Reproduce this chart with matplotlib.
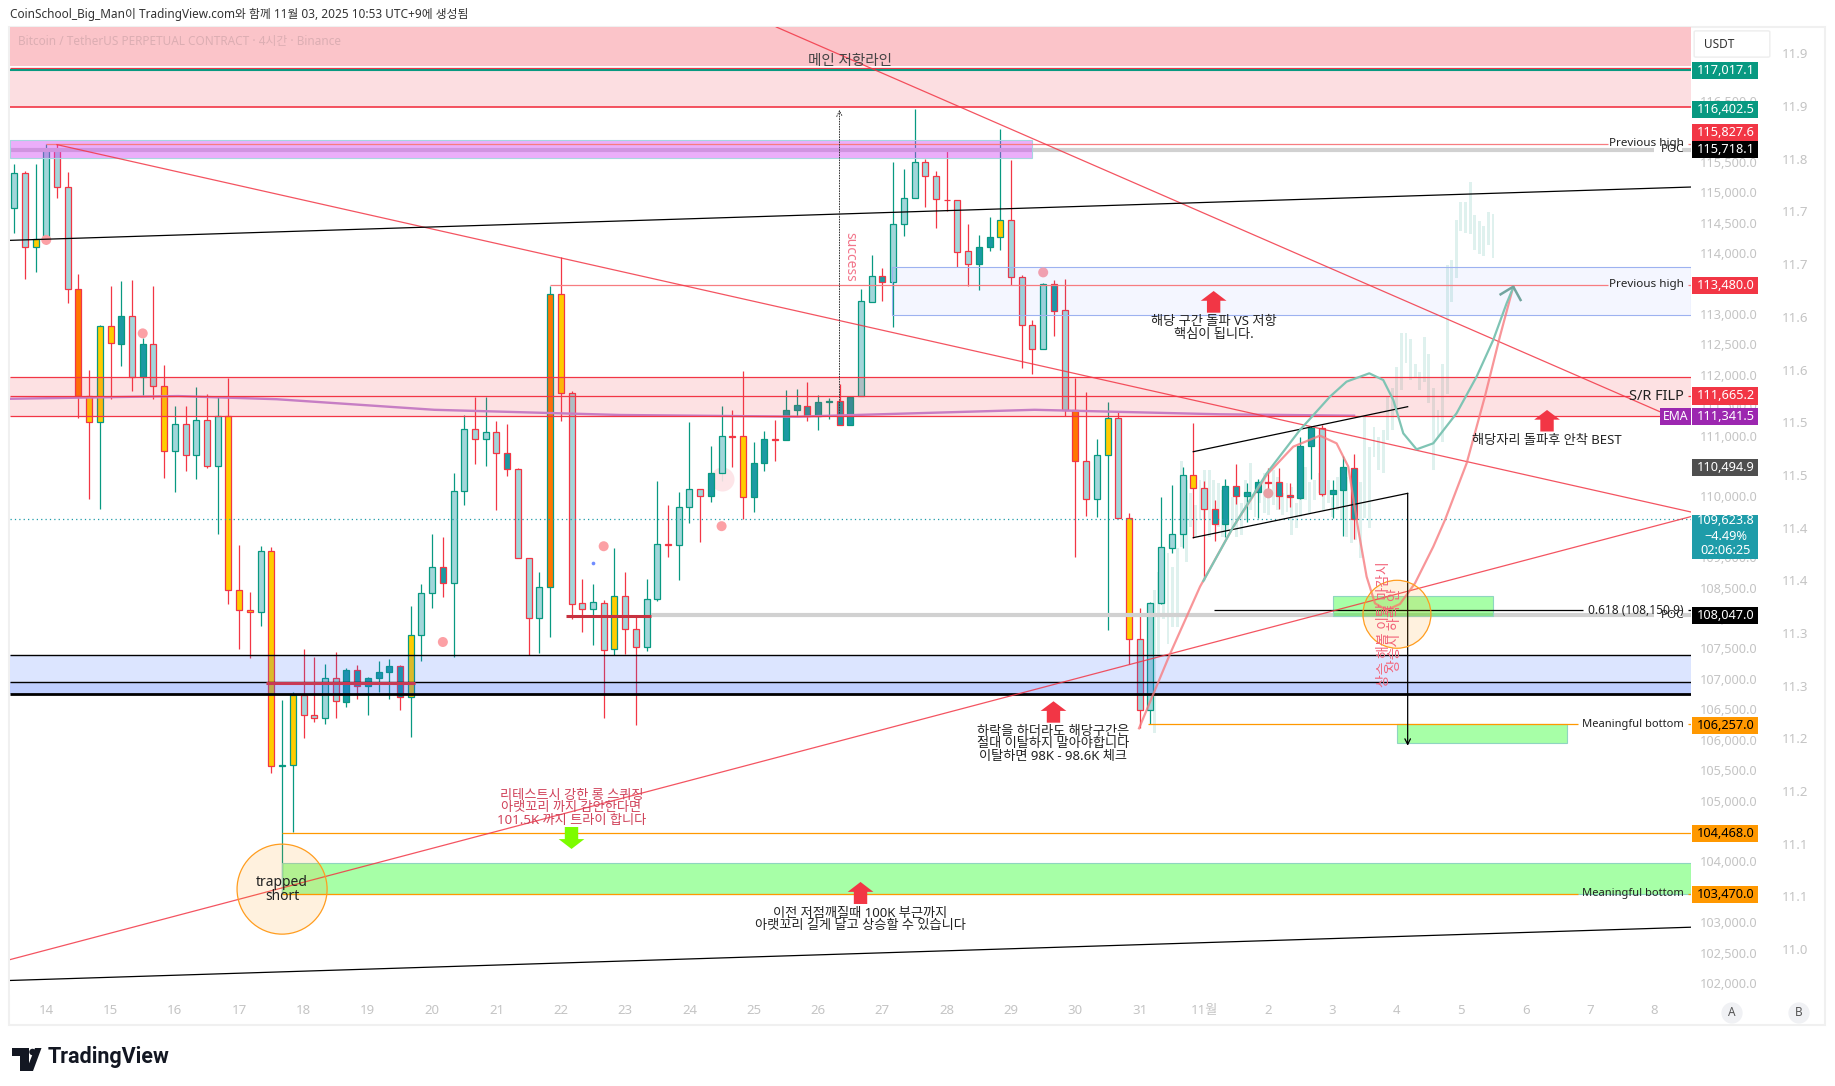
import matplotlib
matplotlib.use('Agg')
import numpy as np
import matplotlib.pyplot as plt
from matplotlib.patches import Rectangle, Ellipse, Polygon, FancyBboxPatch

plt.rcParams['font.family'] = ['Noto Sans', 'Noto Sans CJK KR']

W, H = 1835, 1086

#Candles, 4 hour bars
opens = [114739,115317,114099,114230,115697,115085,113408,111647,111222,112797,
         112513,112967,111958,112502,111811,110746,111188,110678,111250,110497,
         111330,108455,108128,108105,109096,105562,105591,106736,106404,106364,
         107011,106628,107143,106880,107011,107109,107206,106708,107716,108409,
         108833,108575,110084,111103,110939,111058,110712,110452,108981,107996,
         108506,113323,111698,108243,108157,108254,107487,108358,107816,107520,
         108309,109213,109197,109822,110118,110003,110381,110990,110990,109987,
         110548,110939,110933,111415,111494,111324,111560,111567,111182,111652,
         113204,113624,113522,114479,114904,115498,115266,114881,114870,114031,
         113827,114099,114264,114541,113606,112813,112434,113488,113063,111426,
         110576,109964,110677,111286,109641,107651,106483,108243,109158,109378,
         110348,110134,109789,109542,110167,110003,110069,110233,110233,110019,
         109981,110825,111121,110047,110101,110474]
closes = [115317,114099,114230,115697,115085,113408,111647,111222,112797,112519,
          112967,111958,112502,111811,110746,111188,110678,111250,110497,111330,
          108455,108128,108105,109096,105562,105591,106736,106404,106364,107011,
          106633,107143,106880,107011,107109,107206,106708,107716,108409,108833,
          108575,110084,111103,110939,111058,110712,110452,108981,107996,108506,
          113323,111698,108237,108157,108260,107481,108358,107816,107520,108309,
          109213,109208,109822,110118,110003,110384,110990,110980,109987,110548,
          110939,110929,111415,111500,111324,111550,111567,111182,111635,113210,
          113624,113522,114479,114904,115498,115266,114887,114870,114026,113827,
          114099,114264,114541,113606,112813,112434,113488,113057,111426,110576,
          109964,110677,111286,109641,107651,106483,108243,109164,109378,110348,
          110134,109789,109542,110167,110003,110069,110233,110225,110014,109986,
          110825,111132,110041,110101,110480,109624]
highs = [115470,115351,115470,115798,115798,115334,113652,112077,112819,113465,
         113544,113561,112615,113465,112162,111482,111482,111794,111681,111635,
         111947,109205,108426,109188,109170,106651,106777,107492,107361,107246,
         107441,107177,107223,107034,107298,107326,107223,108197,108563,109376,
         109341,110389,111335,111641,111641,111245,111188,110463,108981,108758,
         113465,113935,111737,108644,108563,108300,109153,108753,108035,108643,
         110255,109860,110069,111228,110118,110831,111482,111426,112060,110899,
         111075,111256,111749,111766,111890,111664,111624,111851,111652,113420,
         113975,113760,115504,115391,116376,115549,115351,115713,114881,114484,
         114303,114598,116042,115532,113635,112899,113510,113561,113578,111947,
         111720,110946,111560,111384,109722,108161,108270,109986,110184,110480,
         111203,110250,109942,110288,110535,110217,110282,110463,110463,110217,
         110973,111165,111176,110271,110672,110693]
lows = [114337,113578,113691,114145,114909,113182,111296,109965,109800,111607,
        112151,111737,111664,111596,110304,110078,110418,110293,110474,109387,
        108237,107498,107349,107876,105459,103470,104486,106021,106295,106261,
        106364,106536,106662,106410,106777,106662,106490,106049,107298,108168,
        108352,107366,109868,110542,110508,109783,110338,108981,107395,107424,
        107681,111245,107985,107779,107550,106364,107393,107415,106240,107465,
        108287,109011,108627,109570,109257,109915,110255,110491,109630,109744,
        110423,110576,110933,111324,111245,111086,111273,111182,111182,111652,
        113199,113221,112785,114286,114904,114768,114416,114700,113776,113465,
        113397,114043,114060,113476,112106,112021,112434,112644,111324,109010,
        109685,109668,107810,109641,107245,106187,106257,108227,109065,109158,
        109323,108627,109274,109339,109877,109586,109652,110025,109794,109833,
        109964,110288,110014,109652,109356,109301]
fills = ("llyllloyyy" "dldlylllll" "yyylyoylll" "lddddddyll" "dllllldlll"
         "oyllllylll" "llllldllyd" "dldddddddl" "ldllllllll" "ddylllldlo"
         "llylylllll" "yldddddldd" "ddlddd")

#Faded bars pattern drawn on the right
ghost_tops = [108462,108764,108846,109065,108846,109148,110584,110271,110052,109860,
              110271,110436,110436,110271,110217,110107,110107,109997,110162,109888,
              110271,110545,110107,110052,110381,110107,110436,110326,110052,110217,
              110162,109888,110107,110491,110244,110271,110381,110271,110271,109997,
              110326,110271,110326,109833,110107,
              110244,111313,110820,111149,110984,111094,111642,111779,112136,112684,
              112684,112591,112179,112053,112629,112344,111779,111423,112179,113808,
              113890,114548,114838,114838,115167,114630,114531,114449,114674,114641]
ghost_bottoms = [106116,107366,107980,107574,107859,107859,109175,108928,109504,109339,
                 109614,109614,109339,109614,109504,109339,109449,109504,109339,109367,
                 109614,109778,109668,109888,109723,109696,109860,109778,109696,109751,
                 109367,109476,109668,109942,109723,109942,110052,109778,109888,109668,
                 109778,109614,109339,109230,109285,
                 108983,109641,109477,110655,110436,110381,110929,111094,111423,111752,
                 112201,111916,111971,111752,111889,111533,110436,110984,110902,111686,
                 113205,113599,114372,114328,114317,114054,113989,113961,114137,113928]

#EMA line
ema_x = [-0.4, 15.3, 24.5, 39.2, 56.5, 73.1, 95.2, 112.5, 125]
ema_y = [111607, 111652, 111600, 111426, 111341, 111313, 111426, 111352, 111329]

#Drawn curves
red_curve_x = [104.94,107.83,110.63,113.74,116.85,119.33,121.82,123.37,124.46,125.4,126.17,
               126.95,128.04,129.28,130.68,132.39,133.48,135.5,137.2,138.6,139.85]
red_curve_y = [106187,107410,108517,109504,110354,110820,111001,110874,110491,109449,108682,
               108243,108133,108232,108572,109175,109614,110546,111642,112629,113451]
teal_curve_x = [110.94,113.74,116.85,119.95,122.75,124.3,126.42,127.72,128.66,129.59,130.83,
                132.39,134.56,136.43,137.98,139.23,139.85]
teal_curve_y = [108610,109504,110381,111094,111642,111889,112026,111916,111587,111039,110776,
                110875,111368,111971,112574,113177,113440]

#Trend lines, each one is x0, x1, y0, y1
red_trends = [(4, 156.43, 115787, 109745),
              (71.1, 153.5, 117722, 111397),
              (-0.38, 156.43, 102383, 109670)]
black_trends = [(-0.38, 156.43, 114213, 115090),
                (-0.38, 156.43, 102040, 102916),
                (110, 130, 110737, 111477),
                (110, 130, 109323, 110052)]

#Price scale
price_ticks = list(range(102000, 117000, 500))
day_ticks = [3 + 6 * k for k in range(26)]
day_labels = ['14','15','16','17','18','19','20','21','22','23','24','25','26','27','28','29','30','31',
              '11월','2','3','4','5','6','7','8']
b_ticks = [11.0,11.05,11.1,11.15,11.2,11.25,11.3,11.35,11.4,11.45,11.5,11.55,11.6,11.65,11.7,11.75,11.8,11.85]
b_labels = ['11.0','11.1','11.1','11.2','11.2','11.3','11.3','11.4','11.4','11.5','11.5','11.6','11.6',
            '11.7','11.7','11.8','11.9','11.9']

#Price tags on the scale: centre, text, background, text colour
tag_y = [117000, 116370, 115980, 115700, 113465, 111653, 111319, 110480, 108036, 106239, 104462, 103454]
tag_text = ['117,017.1','116,402.5','115,827.6','115,718.1','113,480.0','111,665.2','111,341.5',
            '110,494.9','108,047.0','106,257.0','104,468.0','103,470.0']
tag_bg = ['#089981','#089981','#f23645','#000000','#f23645','#f23645','#9c27b0',
          '#4f4f4f','#000000','#ff9800','#ff9800','#ff9800']
tag_fg = ['white','white','white','white','white','white','white','white','white','black','black','black']

fig = plt.figure(figsize=(W / 100, H / 100), dpi=100, facecolor='white')
ax = fig.add_axes([10 / W, 1 - 995 / H, 1681 / W, 968 / H])
ax.set_xlim(-0.38, 156.43)
ax.set_ylim(101801, 117722)
for s in ax.spines.values():
    s.set_visible(False)

ax.yaxis.tick_right()
ax.set_yticks(price_ticks)
ax.set_yticklabels([f'{p:,.1f}' for p in price_ticks], fontsize=9.2, color='#c4c4c4')
ax.set_xticks(day_ticks)
ax.set_xticklabels(day_labels, fontsize=9.5, color='#c4c4c4')
ax.tick_params(axis='both', length=0)
ax.tick_params(axis='y', pad=6.5)
ax.tick_params(axis='x', pad=6.5)

#Second scale B
ax2 = fig.add_axes([1691 / W, 1 - 995 / H, 91 / W, 968 / H])
ax2.patch.set_visible(False)
ax2.set_xticks([])
ax2.set_ylim(10.9565, 11.875)
ax2.yaxis.tick_right()
ax2.set_yticks(b_ticks)
ax2.set_yticklabels(b_labels, fontsize=9.5, color='#c4c4c4')
ax2.tick_params(axis='y', length=0, pad=0)
for s in ax2.spines.values():
    s.set_visible(False)

#Faded bars
ghost_x = 106.36 + 0.427 * np.arange(len(ghost_tops))
ax.bar(ghost_x, np.array(ghost_tops) - np.array(ghost_bottoms), bottom=ghost_bottoms, width=0.27,
       color='#089981', alpha=0.13, zorder=1)

#Candles
colors = {'l': '#a2d6da', 'd': '#1b9aa3', 'y': '#ffcc00', 'o': '#ff7700'}
x = np.arange(len(opens))
op = np.array(opens)
cl = np.array(closes)
edge = ['#089981' if c >= o else '#f23645' for o, c in zip(op, cl)]
ax.vlines(x, lows, highs, colors=edge, lw=0.9, zorder=2)
ax.bar(x, np.abs(cl - op), bottom=np.minimum(op, cl), width=0.56, color=[colors[f] for f in fills],
       edgecolor=edge, linewidth=0.9, zorder=3)

#Zones, see through over the candles
def zone(x0, x1, y0, y1, color, alpha, edgecolor=None):
    ax.add_patch(Rectangle((x0, y0), x1 - x0, y1 - y0, facecolor=color, alpha=alpha, lw=0, zorder=4))
    if edgecolor:
        ax.add_patch(Rectangle((x0, y0), x1 - x0, y1 - y0, facecolor='none', edgecolor=edgecolor, lw=0.8, zorder=4.1))

ax.hlines(115704, -0.38, 153.0, colors='#d1d1d1', lw=3.0, zorder=3.5)
ax.hlines(115704, 155.6, 156.43, colors='#d1d1d1', lw=3.0, zorder=3.5)
ax.hlines(108047, 59.4, 153.0, colors='#d1d1d1', lw=3.0, zorder=3.5)
ax.hlines(108047, 155.6, 156.43, colors='#d1d1d1', lw=3.0, zorder=3.5)

zone(-0.38, 156.43, 117080, 117722, '#f23645', 0.29)
zone(-0.38, 156.43, 116402, 117017, '#f23645', 0.16)
zone(-0.38, 95, 115561, 115861, '#d040f5', 0.42, '#a8d5e0')
zone(81.9, 156.43, 112978, 113771, '#2962ff', 0.05, '#9db2f0')
zone(-0.38, 156.43, 111318, 111970, '#f23645', 0.15)
zone(-0.38, 156.43, 106759, 107389, '#2962ff', 0.16)
zone(-0.38, 156.43, 106759, 106943, '#2962ff', 0.16)
zone(25, 156.43, 103470, 103976, '#00ff00', 0.345, '#8fd5c0')
zone(123, 138, 108040, 108357, '#00ff00', 0.345, '#8fd5c0')
zone(129, 144.9, 105943, 106257, '#00ff00', 0.345, '#8fd5c0')

#Level lines
red = '#f23645'
pale = '#f77c80'
ax.hlines(116402, -0.38, 156.43, colors=red, lw=1.2, zorder=5)
ax.hlines(117045, -0.38, 156.43, colors=red, lw=0.9, zorder=5)
ax.hlines(117010, -0.38, 156.43, colors='#089981', lw=1.5, zorder=5)
ax.hlines(115800, 3, 148.7, colors=pale, lw=0.9, zorder=5)
ax.hlines(113480, 50, 148.7, colors=pale, lw=0.9, zorder=5)
ax.hlines([115800, 113480], 156.15, 156.43, colors=pale, lw=0.9, zorder=5)
ax.hlines([111970, 111318], -0.38, 156.43, colors=red, lw=0.9, zorder=5)
ax.hlines(111647, -0.38, 150.7, colors=red, lw=0.9, zorder=5)
ax.hlines(111647, 156.15, 156.43, colors=red, lw=0.9, zorder=5)
ax.hlines(107389, -0.38, 156.43, colors='black', lw=1.0, zorder=5)
ax.hlines(106943, -0.38, 156.43, colors='black', lw=1.0, zorder=5)
ax.hlines(106759, -0.38, 156.43, colors='black', lw=2.0, zorder=5)
ax.hlines(106925, 23.5, 37.4, colors='#c83a55', lw=2.2, zorder=5)
ax.hlines(108042, 51.5, 59.4, colors='#c7313f', lw=2.2, zorder=5)
ax.hlines(108128, 111.9, 146.35, colors='black', lw=0.9, zorder=5)
ax.hlines(108128, 156.15, 156.43, colors='black', lw=0.9, zorder=5)
ax.hlines(106257, 105.8, 145.9, colors='#ff9800', lw=0.9, zorder=5)
ax.hlines(106257, 156.15, 156.43, colors='#ff9800', lw=0.9, zorder=5)
ax.hlines(104468, 25, 156.43, colors='#ff9800', lw=0.9, zorder=5)
ax.hlines(103470, 25, 145.9, colors='#ff9800', lw=0.9, zorder=5)
ax.hlines(103470, 156.15, 156.43, colors='#ff9800', lw=0.9, zorder=5)
ax.hlines(109623.8, -0.38, 156.43, colors='#1e9ca9', lw=0.9, linestyles=(0, (1, 2.5)), zorder=5)

#EMA, trend lines, curves
ax.plot(ema_x, ema_y, color='#c77dc4', lw=1.7, zorder=4.5)
for x0, x1, y0, y1 in red_trends:
    ax.plot([x0, x1], [y0, y1], color=red, lw=0.9, alpha=0.85, zorder=6)
for x0, x1, y0, y1 in black_trends:
    ax.plot([x0, x1], [y0, y1], color='black', lw=0.9, zorder=6)
ax.plot(red_curve_x, red_curve_y, color=pale, lw=1.6, alpha=0.8, zorder=6)
ax.plot(teal_curve_x, teal_curve_y, color='#7fc4b4', lw=1.6, zorder=6.1)
ax.plot([138.67, 139.85, 140.53], [113325, 113451, 113232], color='#72a59f', lw=1.8, zorder=6.2)

#Measure arrows
ax.annotate('', xy=(130, 105900), xytext=(130, 110052), zorder=6,
            arrowprops=dict(arrowstyle='->', lw=0.9, color='black', shrinkA=0, shrinkB=0))
ax.annotate('', xy=(77, 116360), xytext=(77, 111369), zorder=6,
            arrowprops=dict(arrowstyle='->', lw=0.7, color='#333333', linestyle=':', shrinkA=0, shrinkB=0))

#Solid arrows
def block_arrow(xa, base, tip, color):
    ax.arrow(xa, base, 0, tip - base, width=1.25, head_width=2.4, head_length=abs(tip - base) * 0.45,
             length_includes_head=True, color=color, lw=0, zorder=7)

block_arrow(96.96, 106280, 106632, red)
block_arrow(78.96, 103298, 103660, red)
block_arrow(111.9, 113023, 113380, red)
block_arrow(143, 111069, 111423, red)
block_arrow(52, 104564, 104203, '#7cfc00')

#Circles
ax.add_patch(Ellipse((25, 103542), 8.4, 1480, facecolor='#ff9800', alpha=0.13, lw=0, zorder=6))
ax.add_patch(Ellipse((25, 103542), 8.4, 1480, facecolor='none', edgecolor='#ff9d1f', lw=0.9, zorder=6))
ax.add_patch(Ellipse((129, 108063), 6.34, 1118, facecolor='#ff9800', alpha=0.13, lw=0, zorder=6))
ax.add_patch(Ellipse((129, 108063), 6.34, 1118, facecolor='none', edgecolor='#ff9d1f', lw=0.9, zorder=6))

#Signal dots
dot_x = [12, 3, 40, 55, 66, 96, 117]
dot_y = [112683, 114220, 107607, 109182, 109512, 113686, 110052]
dot_c = ['#fca0a5', '#fca0a5', '#fca0a5', '#fca0a5', '#fca0a5', '#f0a0b0', '#e8a0a5']
ax.scatter(dot_x, dot_y, s=52, c=dot_c, lw=0, zorder=5.5)
ax.scatter([66], [110293], s=300, c='#fde3e6', alpha=0.9, lw=0, zorder=2.5)
ax.scatter([54], [108901], s=7, c='#6f8cff', lw=0, zorder=5.5)

#Text on the chart
ax.text(78, 117150, '메인 저항라인', fontsize=10.5, ha='center', va='center', color='#444444', zorder=8)
ax.text(78, 113940, 'success', fontsize=10, rotation=-90, ha='center', va='center', color='#f2758a', zorder=8)
ax.text(25, 103655, 'trapped', fontsize=10, ha='center', va='center', color='#222222', zorder=8)
ax.text(25, 103425, 'short', fontsize=10, ha='center', va='center', color='#222222', zorder=8)
ax.text(52, 104880, '리테스트시 강한 롱 스퀴징\n아랫꼬리 까지 감안한다면\n101.5K 까지 트라이 합니다', fontsize=9.5,
        ha='center', va='center', color='#d0425a', linespacing=0.95, zorder=8)
ax.text(111.9, 112775, '해당 구간 돌파 VS 저항\n핵심이 됩니다.', fontsize=9.5, ha='center', va='center',
        color='#222222', linespacing=0.95, zorder=8)
ax.text(143, 110915, '해당자리 돌파후 안착 BEST', fontsize=9.5, ha='center', va='center', color='#222222', zorder=8)
ax.text(96.96, 105935, '하락을 하더라도 해당구간은\n절대 이탈하지 말아야합니다\n이탈하면 98K - 98.6K 체크', fontsize=9.5,
        ha='center', va='center', color='#222222', linespacing=0.95, zorder=8)
ax.text(78.96, 103040, '이전 저점깨질때 100K 부근까지\n아랫꼬리 길게 달고 상승할 수 있습니다', fontsize=9.5,
        ha='center', va='center', color='#222222', linespacing=0.9, zorder=8)
ax.text(127.8, 107900, '상승 해볼 이탈 마감시', fontsize=10, rotation=90, ha='center', va='center', color='#f2647a', zorder=8)
ax.text(128.9, 107800, '상승시 하락 안', fontsize=10, rotation=90, ha='center', va='center', color='#f2647a', zorder=8)

#Right hand labels, x in axes part, y in price
trans = ax.get_yaxis_transform()
lx = (1684 - 10) / 1681
for y, s, fs in [(115800, 'Previous high', 8.4), (115704, 'POC', 8.4), (113480, 'Previous high', 8.4),
                 (111647, 'S/R FILP', 10.5), (108128, '0.618 (108,150.9)', 8.6), (108047, 'POC', 8.4),
                 (106257, 'Meaningful bottom', 8), (103470, 'Meaningful bottom', 8)]:
    ax.text(lx, y, s, transform=trans, fontsize=fs, ha='right', va='center', color='#222222', zorder=8)

#Price tags
tag_left = 1692 - 10
for y, s, bg, fg in zip(tag_y, tag_text, tag_bg, tag_fg):
    ax.add_patch(Rectangle((tag_left / 1681, y - 140), 66 / 1681, 280, transform=trans, facecolor=bg, lw=0,
                           clip_on=False, zorder=20))
    ax.text((tag_left + 34) / 1681, y, s, transform=trans, fontsize=9.2, fontweight='medium', ha='center', va='center',
            color=fg, clip_on=False, zorder=21)
ax.add_patch(Rectangle(((1660 - 10) / 1681, 111319 - 140), 31 / 1681, 280, transform=trans, facecolor='#9c27b0', lw=0,
                       clip_on=False, zorder=20))
ax.text(((1660 + 1691) / 2 - 10) / 1681, 111319, 'EMA', transform=trans, fontsize=8.8, ha='center', va='center',
        color='white', clip_on=False, zorder=21)

#Current price tag with three rows
ax.add_patch(Rectangle((tag_left / 1681, 108974), 66 / 1681, 729, transform=trans, facecolor='#1e9ca9', lw=0,
                       clip_on=False, zorder=20))
for y, s in [(109600, '109,623.8'), (109350, '−4.49%'), (109110, '02:06:25')]:
    ax.text((tag_left + 34) / 1681, y, s, transform=trans, fontsize=9.2, ha='center', va='center', color='white',
            clip_on=False, zorder=21)

#Text and furniture in figure pixels
def fx(px):
    return px / W

def fy(py):
    return 1 - py / H

fig.add_artist(Rectangle((fx(9), fy(1025)), 1816 / W, 998 / H, transform=fig.transFigure, facecolor='none',
                         edgecolor='#f0f0f0', lw=1.5, zorder=0))
fig.text(fx(10), fy(14.5), 'CoinSchool_Big_Man이 TradingView.com와 함께 11월 03, 2025 10:53 UTC+9에 생성됨',
         fontsize=8.5, va='center', color='#333333')
fig.text(fx(18), fy(42), 'Bitcoin / TetherUS PERPETUAL CONTRACT · 4시간 · Binance', fontsize=8.5, va='center',
         color='#dcaeb3')
fig.add_artist(FancyBboxPatch((fx(1696), fy(56)), 72 / W, 24 / H, boxstyle='round,pad=0.001', transform=fig.transFigure,
                              facecolor='white', edgecolor='#ededed', lw=1, zorder=5))
fig.text(fx(1704), fy(44), 'USDT', fontsize=8.5, va='center', color='#333333', zorder=6)
fig.text(fx(1732), fy(1013), 'A', fontsize=8.5, ha='center', va='center', color='#555555',
         bbox=dict(boxstyle='circle,pad=0.35', fc='#f0f1f4', ec='none'))
fig.text(fx(1799), fy(1013), 'B', fontsize=8.5, ha='center', va='center', color='#555555',
         bbox=dict(boxstyle='circle,pad=0.35', fc='#f0f1f4', ec='none'))

#TradingView logo
logo_bar = [(12, 1048), (29, 1048), (29, 1071), (20, 1071), (20, 1056), (12, 1056)]
logo_slash = [(35, 1048), (41.5, 1048), (33, 1071), (26, 1071)]
for pts in (logo_bar, logo_slash):
    fig.add_artist(Polygon([(fx(a), fy(b)) for a, b in pts], transform=fig.transFigure, facecolor='#131722', lw=0))
fig.add_artist(Ellipse((fx(32.5), fy(1052)), 6.5 / W, 6.5 / H, transform=fig.transFigure, facecolor='#131722', lw=0))
fig.text(fx(48), fy(1056.5), 'TradingView', fontsize=15.5, fontweight='semibold', va='center', color='#131722',
         family='Roboto')

fig.savefig('out.png', dpi=100)
